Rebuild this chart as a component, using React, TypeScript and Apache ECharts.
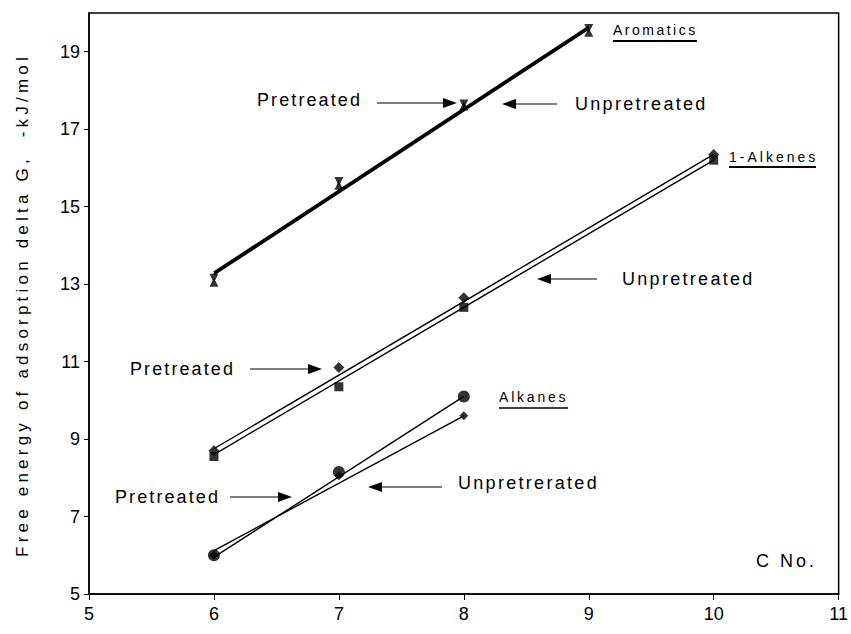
import React, { useEffect, useRef } from "react";
import * as echarts from "echarts";

// Carbon numbers and free energies of adsorption (-kJ/mol)
const carbonAromatics = [6, 7, 8, 9];
const aromaticsPretreated = [13.15, 15.65, 17.65, 19.6];
const aromaticsUnpretreated = [13.05, 15.55, 17.6, 19.5];
const aromaticsFitX = [6, 9];
const aromaticsFitPretreated = [13.3, 19.65];
const aromaticsFitUnpretreated = [13.25, 19.6];

const carbonAlkenes = [6, 7, 8, 10];
const alkenesPretreated = [8.7, 10.85, 12.65, 16.35];
const alkenesUnpretreated = [8.55, 10.35, 12.4, 16.2];
const alkenesFitX = [6, 10];
const alkenesFitPretreated = [8.75, 16.35];
const alkenesFitUnpretreated = [8.6, 16.2];

const carbonAlkanes = [6, 7, 8];
const alkanesPretreated = [6.0, 8.15, 10.1];
const alkanesUnpretreated = [6.0, 8.05, 9.6];
const alkanesFitX = [6, 8];
const alkanesFitPretreated = [5.95, 10.1];
const alkanesFitUnpretreated = [6.12, 9.6];

const yTickValues = [5, 7, 9, 11, 13, 15, 17, 19];

const FONT = "Liberation Sans";

const pairs = (xs: number[], ys: number[]) => xs.map((x, i) => [x, ys[i]]);

const fitLine = (name: string, xs: number[], ys: number[], width: number) => ({
  name,
  type: "line",
  data: pairs(xs, ys),
  showSymbol: false,
  symbol: "none",
  lineStyle: { color: "#000", width },
  z: 2,
  silent: true,
});

const markers = (
  name: string,
  xs: number[],
  ys: number[],
  symbol: string,
  size: number,
  rotate = 0
) => ({
  name,
  type: "scatter",
  data: pairs(xs, ys),
  symbol,
  symbolSize: size,
  symbolRotate: rotate,
  itemStyle: { color: "#000" },
  z: 3,
  silent: true,
});

// Text with letter spacing carried through the SVG font declaration
const spacedText = (
  text: string,
  x: number,
  y: number,
  size: number,
  spacing: number
) => ({
  type: "text",
  x,
  y,
  silent: true,
  style: {
    text,
    fontSize: size,
    fontFamily: `${FONT};letter-spacing:${spacing}px`,
    fill: "#000",
    align: "left",
    verticalAlign: "middle",
  },
});

const arrow = (tail: number, tip: number, y: number) => {
  const dir = tip > tail ? 1 : -1;
  const head = 14;
  const half = 5;
  return {
    type: "group",
    silent: true,
    children: [
      {
        type: "line",
        shape: { x1: tail, y1: y, x2: tip - dir * head, y2: y },
        style: { stroke: "#000", lineWidth: 1.2 },
      },
      {
        type: "polygon",
        shape: {
          points: [
            [tip, y],
            [tip - dir * head, y - half],
            [tip - dir * head, y + half],
          ],
        },
        style: { fill: "#000" },
      },
    ],
  };
};

const underline = (x1: number, x2: number, y: number, w: number) => ({
  type: "line",
  silent: true,
  shape: { x1, y1: y, x2, y2: y },
  style: { stroke: "#000", lineWidth: w },
});

export default function App() {
  const ref = useRef<HTMLDivElement>(null);

  useEffect(() => {
    if (!ref.current) return;
    const chart = echarts.init(ref.current, null, { renderer: "svg" });

    const option = {
      animation: false,
      backgroundColor: "#fff",
      grid: {
        left: 89,
        right: 11,
        top: 13,
        bottom: 40,
        show: true,
        borderColor: "#000",
        borderWidth: 1.5,
      },
      xAxis: {
        type: "value",
        min: 5,
        max: 11,
        interval: 1,
        splitLine: { show: false },
        axisLine: { show: true, onZero: false, lineStyle: { color: "#000", width: 1.5 } },
        axisTick: { show: true, inside: false, length: 6, lineStyle: { color: "#000" } },
        axisLabel: { color: "#000", fontSize: 18, fontFamily: FONT, margin: 11 },
      },
      yAxis: {
        type: "value",
        min: 5,
        max: 20,
        splitLine: { show: false },
        axisLine: { show: true, onZero: false, lineStyle: { color: "#000", width: 1.5 } },
        axisTick: {
          show: true,
          inside: false,
          length: 5,
          customValues: yTickValues,
          lineStyle: { color: "#000" },
        },
        axisLabel: {
          color: "#000",
          fontSize: 18,
          fontFamily: FONT,
          margin: 9,
          customValues: yTickValues,
        },
      },
      series: [
        fitLine("Aromatics pretreated fit", aromaticsFitX, aromaticsFitPretreated, 2.2),
        fitLine("Aromatics unpretreated fit", aromaticsFitX, aromaticsFitUnpretreated, 2.2),
        fitLine("1-Alkenes pretreated fit", alkenesFitX, alkenesFitPretreated, 1.4),
        fitLine("1-Alkenes unpretreated fit", alkenesFitX, alkenesFitUnpretreated, 1.4),
        fitLine("Alkanes pretreated fit", alkanesFitX, alkanesFitPretreated, 1.4),
        fitLine("Alkanes unpretreated fit", alkanesFitX, alkanesFitUnpretreated, 1.4),
        markers("Aromatics pretreated", carbonAromatics, aromaticsPretreated, "triangle", 9, 180),
        markers("Aromatics unpretreated", carbonAromatics, aromaticsUnpretreated, "triangle", 9),
        markers("1-Alkenes pretreated", carbonAlkenes, alkenesPretreated, "diamond", 11),
        markers("1-Alkenes unpretreated", carbonAlkenes, alkenesUnpretreated, "rect", 9),
        markers("Alkanes pretreated", carbonAlkanes, alkanesPretreated, "circle", 12),
        markers("Alkanes unpretreated", carbonAlkanes, alkanesUnpretreated, "diamond", 9),
      ],
      graphic: [
        // y-axis title
        {
          type: "text",
          x: 22,
          y: 305,
          rotation: Math.PI / 2,
          silent: true,
          style: {
            text: "Free energy of adsorption delta G,  -kJ/mol",
            fontSize: 17,
            fontFamily: `${FONT};letter-spacing:4.2px`,
            fill: "#000",
            align: "center",
            verticalAlign: "middle",
          },
        },
        // Aromatics
        spacedText("Aromatics", 613, 30, 14, 2.5),
        underline(613, 697, 41, 2),
        spacedText("Pretreated", 257, 100, 18, 2.1),
        arrow(377, 457, 103),
        arrow(557, 502, 104),
        spacedText("Unpretreated", 575, 104, 18, 2.3),
        // 1-Alkenes
        spacedText("1-Alkenes", 729, 157, 14, 3),
        underline(729, 816, 167, 2),
        spacedText("Pretreated", 130, 369, 18, 2.1),
        arrow(250, 322, 369),
        arrow(597, 537, 279),
        spacedText("Unpretreated", 622, 279, 18, 2.3),
        // Alkanes
        spacedText("Alkanes", 499, 397, 14, 2.8),
        underline(499, 568, 408, 1.5),
        spacedText("Pretreated", 115, 497, 18, 2.1),
        arrow(230, 292, 497),
        arrow(442, 368, 487),
        spacedText("Unpretrerated", 458, 483, 18, 2.3),
        // x-axis caption inside the plot
        spacedText("C No.", 756, 561, 18, 3),
      ],
    };

    chart.setOption(option as any);
    return () => chart.dispose();
  }, []);

  return (
    <div
      ref={ref}
      style={{ position: "absolute", left: 0, top: 0, width: 851, height: 634 }}
    />
  );
}
